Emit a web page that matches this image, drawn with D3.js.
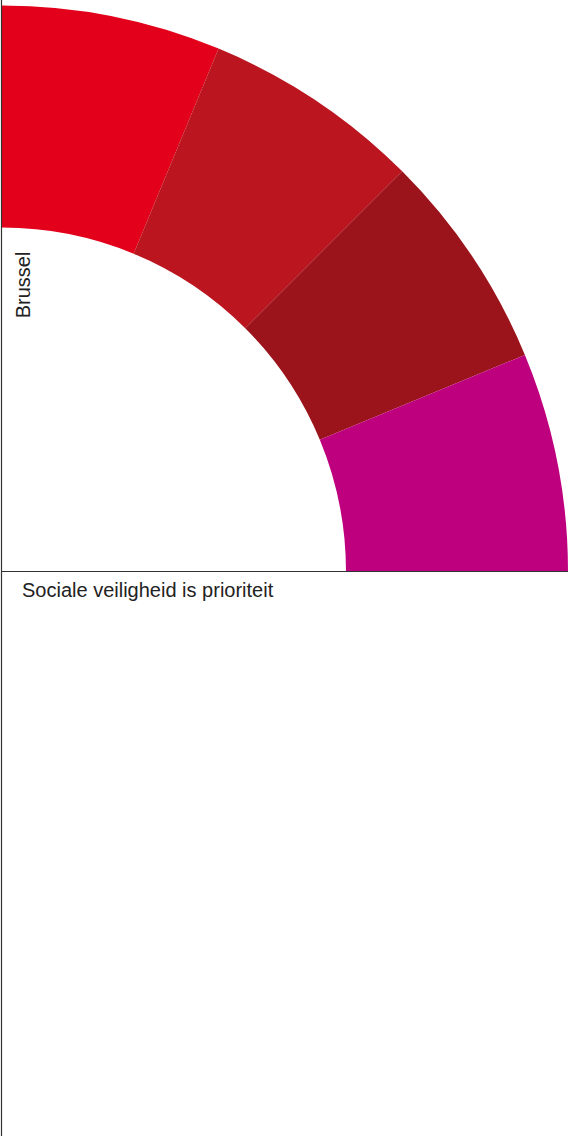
<!DOCTYPE html>
<html><head><meta charset="utf-8">
<script src="https://cdn.jsdelivr.net/npm/d3@7"></script>
<style>html,body{margin:0;padding:0;background:#fff;}svg{display:block;}</style>
</head><body>
<script>
const categories = ["A", "B", "C", "D"];
const values = [1, 1, 1, 1];
const colors = ["#e2001a", "#bb1520", "#9b141b", "#be007f"];
const axisLabelY = "Brussel";
const axisLabelX = "Sociale veiligheid is prioriteit";

const W = 573, H = 1136;
const cx = 2, cy = 571.5;
const outerR = 566, innerR = 344;

const svg = d3.select("body").append("svg").attr("width", W).attr("height", H);

const pie = d3.pie().sort(null).value(d => d).startAngle(0).endAngle(Math.PI / 2);
const arc = d3.arc().innerRadius(innerR).outerRadius(outerR);
const data = pie(values);

svg.append("g").attr("transform", `translate(${cx},${cy})`)
  .selectAll("path").data(data).join("path")
  .attr("d", arc)
  .attr("fill", (d, i) => colors[i]);

svg.append("line").attr("x1", 1.5).attr("x2", 1.5).attr("y1", 0).attr("y2", H)
  .attr("stroke", "#333").attr("stroke-width", 1.2);
svg.append("line").attr("x1", 1).attr("x2", cx + outerR).attr("y1", cy).attr("y2", cy)
  .attr("stroke", "#333").attr("stroke-width", 1.2);

svg.append("text")
  .attr("transform", `translate(29.5,285) rotate(-90)`)
  .attr("text-anchor", "middle")
  .attr("font-family", "Liberation Sans, Arial, sans-serif")
  .attr("font-size", 20).attr("fill", "#222")
  .text(axisLabelY);

svg.append("text")
  .attr("x", 22).attr("y", 597)
  .attr("font-family", "Liberation Sans, Arial, sans-serif")
  .attr("font-size", 20).attr("fill", "#222")
  .text(axisLabelX);
</script>
</body></html>
